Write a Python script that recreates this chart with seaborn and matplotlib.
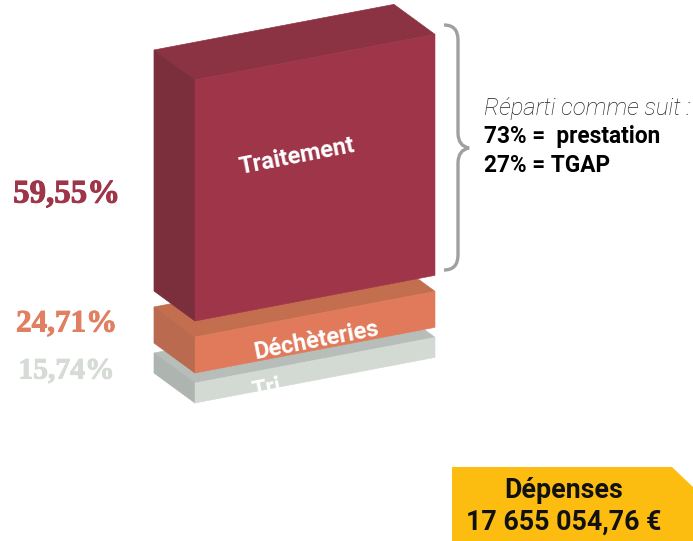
import numpy as np
import seaborn as sns
import matplotlib.pyplot as plt
import matplotlib.patheffects as pe
from matplotlib.patches import PathPatch, Polygon
from matplotlib.path import Path
from matplotlib.transforms import Affine2D

# Values from the picture, bottom box first
categories = ["Tri", "Déchèteries", "Traitement"]
shares = [15.74, 24.71, 59.55]
# the boxes are not drawn to scale, so their thickness is read off separately
thickness = [20, 36, 241]
baselines = [138, 168, 220]
total_label = "17 655 054,76 €"
split_lines = ["73% =  prestation", "27% = TGAP"]

front_colors = ["#d3d9d3", "#e07a5b", "#9e3549"]
top_colors = ["#b7beb9", "#c46e50", "#8b3342"]
side_colors = ["#aeb5b0", "#ba6a4e", "#7b2e3b"]
share_colors = ["#d6dbd6", "#e07f62", "#9e3549"]
share_y = [371, 324, 194]
share_size = [21.3, 22.4, 23.7]
label_pos = [(267, 389), (317, 341), (297, 156)]

box_center = 315
box_width = 240
slope = 0.19
depth = np.array([-41, 30])

sns.set_style("white")
plt.rcParams["font.family"] = ["Roboto", "DejaVu Sans"]

fig = plt.figure(figsize=(6.93, 5.41), dpi=100)
ax = fig.add_axes([0, 0, 1, 1])

left = box_center - box_width / 2
shear = Affine2D.from_values(1, slope, 0, 1, 0, -slope * left)

for i, name in enumerate(categories):
    sns.barplot(x=[box_center], y=[thickness[i]], bottom=baselines[i], native_scale=True,
                width=box_width, color=front_colors[i], saturation=1, ax=ax)
    bar = ax.patches[-1]
    bar.set_transform(shear + ax.transData)
    bar.set_zorder(i + 1.5)
    bar.set_edgecolor(front_colors[i])
    bar.set_linewidth(0.4)

    # top and left faces start from the corners of the bar
    x0, y0 = bar.get_x(), bar.get_y()
    x1, y1 = x0 + bar.get_width(), y0 + bar.get_height()
    bl, tl, tr = shear.transform([(x0, y0), (x0, y1), (x1, y1)])
    ax.add_patch(Polygon([tl, tr, tr + depth, tl + depth], facecolor=top_colors[i],
                         edgecolor=top_colors[i], lw=0.5, zorder=i + 1))
    ax.add_patch(Polygon([bl, tl, tl + depth, bl + depth], facecolor=side_colors[i],
                         edgecolor=side_colors[i], lw=0.5, zorder=i + 1))

ax.set_xlim(0, 693)
ax.set_ylim(0, 541)
ax.axis("off")


def py(y):
    return 541 - y


for i, name in enumerate(categories):
    ax.text(label_pos[i][0], py(label_pos[i][1]), name, color="white", fontsize=17, fontweight="bold",
            rotation=11, rotation_mode="anchor", ha="center", va="center", zorder=6)
    label = f"{shares[i]:.2f}%".replace(".", ",")
    ax.text(66.5, py(share_y[i]), label, color=share_colors[i], fontsize=share_size[i], fontweight="bold",
            family="Liberation Serif", ha="center", va="center", zorder=6,
            path_effects=[pe.withStroke(linewidth=0.7, foreground=share_colors[i])])

# brace
brace = Path([(444, py(25)), (458, py(25)), (458, py(40)),
              (458, py(133)), (458, py(146)), (469, py(148)),
              (458, py(150)), (458, py(163)),
              (458, py(255)), (458, py(270)), (444, py(270))],
             [Path.MOVETO, Path.CURVE3, Path.CURVE3,
              Path.LINETO, Path.CURVE3, Path.CURVE3,
              Path.CURVE3, Path.CURVE3,
              Path.LINETO, Path.CURVE3, Path.CURVE3])
ax.add_patch(PathPatch(brace, fill=False, edgecolor="#a0a0a0", lw=2.4, zorder=6))

ax.text(484, py(108), "Réparti comme suit :", fontsize=17.2, fontstyle="italic", fontweight="light",
        color="#222222", va="center")
ax.text(484, py(136), split_lines[0], fontsize=16.3, fontweight="bold", color="black", va="center")
ax.text(484, py(165), split_lines[1], fontsize=16.3, fontweight="bold", color="black", va="center")

# yellow tag
ax.add_patch(Polygon([(452, py(467)), (672, py(467)), (693, py(487)), (693, 0), (452, 0)],
                     color="#fdbd10", lw=0))
ax.text(564, py(490), "Dépenses", fontsize=19.3, fontweight="bold", color="#111111", ha="center", va="center")
ax.text(564, py(522), total_label, fontsize=19.3, fontweight="bold", color="#111111", ha="center", va="center")

fig.savefig("out.png", dpi=100)
